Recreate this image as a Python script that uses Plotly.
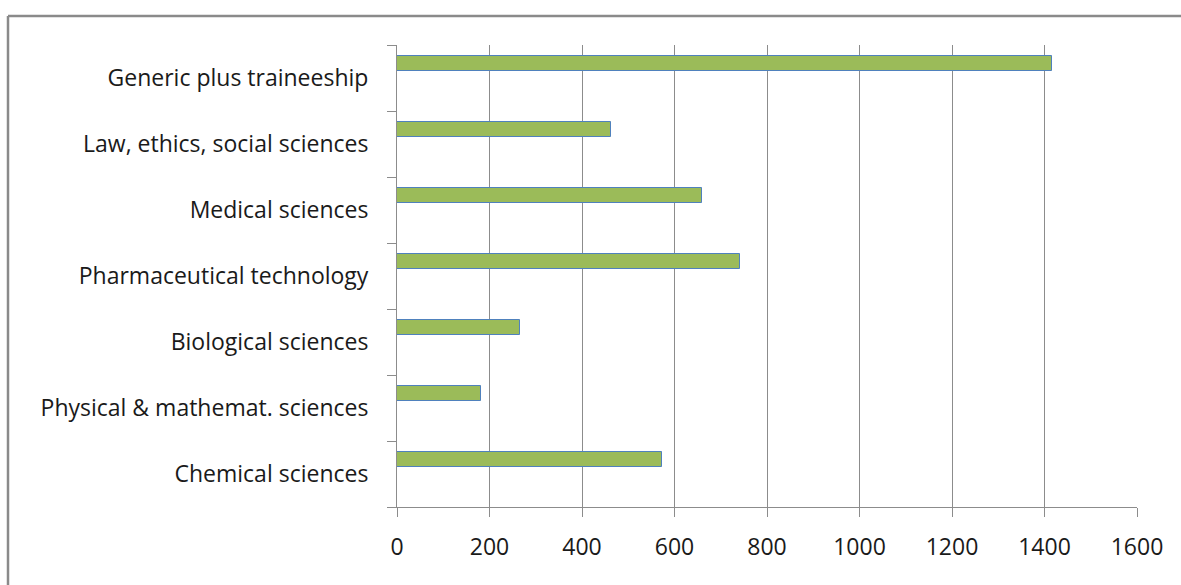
import plotly.graph_objects as go

categories = [
    "Chemical sciences",
    "Physical & mathemat. sciences",
    "Biological sciences",
    "Pharmaceutical technology",
    "Medical sciences",
    "Law, ethics, social sciences",
    "Generic plus traineeship",
]
values = [573, 182, 266, 742, 659, 462, 1417]
x_ticks = [0, 200, 400, 600, 800, 1000, 1200, 1400, 1600]

W, H = 1181, 585
ML, MR, MT, MB = 397, 44, 45, 78
pw, ph = W - ML - MR, H - MT - MB

fig = go.Figure()
fig.add_trace(go.Bar(
    y=categories, x=values, orientation="h",
    width=0.227, offset=0.106,
    marker=dict(color="#9BBB59", line=dict(color="#4F81BD", width=1)),
    hoverinfo="x+y",
))

font_family = "Open Sans, Lato, sans-serif"
grid = "#8C8C8C"

fig.update_layout(
    width=W, height=H,
    margin=dict(l=ML, r=MR, t=MT, b=MB, pad=0),
    paper_bgcolor="white", plot_bgcolor="white",
    showlegend=False,
    font=dict(family=font_family, size=23, color="#1a1a1a"),
    bargap=0,
)
fig.update_xaxes(
    range=[0, 1600], tickvals=x_ticks, ticktext=[str(v) for v in x_ticks],
    showgrid=True, gridcolor=grid, gridwidth=1,
    zeroline=False, showline=True, linecolor=grid, linewidth=1,
    ticks="outside", ticklen=9, tickcolor=grid,
    ticklabelstandoff=10,
    tickfont=dict(family=font_family, size=23, color="#1a1a1a"), fixedrange=True,
)
fig.update_yaxes(
    type="category", categoryorder="array", categoryarray=categories,
    range=[-0.5, len(categories) - 0.5],
    showgrid=False, zeroline=False, showline=True, linecolor=grid, linewidth=1,
    ticks="outside", ticklen=9, tickcolor=grid, tickson="boundaries",
    ticklabelstandoff=23,
    tickfont=dict(family=font_family, size=23, color="#1a1a1a"), fixedrange=True,
)

# outer chart border (left and top edges visible)
bx = (8 - ML) / pw
by = 1 + (MT - 16) / ph
fig.add_shape(type="line", xref="paper", yref="paper", x0=bx, x1=bx, y0=by, y1=-1,
              line=dict(color="#8A8A8A", width=2.5))
fig.add_shape(type="line", xref="paper", yref="paper", x0=bx, x1=2, y0=by, y1=by,
              line=dict(color="#8A8A8A", width=2.5))

fig.write_html("out.html")
